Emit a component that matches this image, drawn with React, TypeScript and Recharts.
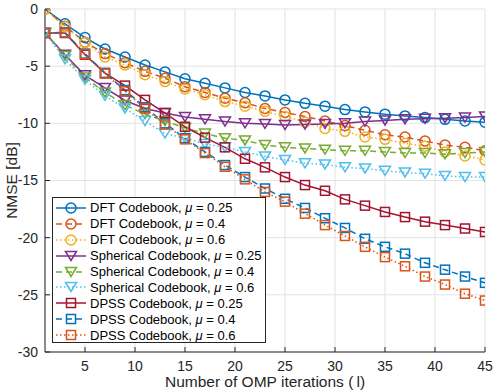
import React from "react";
import { LineChart, Line, XAxis, YAxis, CartesianGrid, Legend, Label } from "recharts";

const iterations = [1, 3, 5, 7, 9, 11, 13, 15, 17, 19, 21, 23, 25, 27, 29, 31, 33, 35, 37, 39, 41, 43, 45];

const dft025 = [0, -1.3, -2.5, -3.5, -4.2, -4.9, -5.5, -6.1, -6.5, -6.9, -7.3, -7.6, -7.95, -8.25, -8.5, -8.8, -9.0, -9.2, -9.35, -9.5, -9.65, -9.8, -9.9];
const dft04 = [0, -1.5, -2.9, -3.9, -4.7, -5.45, -6.05, -6.8, -7.3, -7.8, -8.2, -8.7, -9.05, -9.4, -9.8, -10.2, -10.6, -11.0, -11.2, -11.55, -11.9, -12.1, -12.4];
const dft06 = [0, -1.55, -2.95, -4.2, -4.9, -5.75, -6.35, -7.0, -7.5, -8.1, -8.5, -8.95, -9.4, -9.9, -10.45, -10.7, -11.2, -11.4, -11.75, -12.0, -12.5, -12.85, -13.2];
const sph025 = [-2.1, -4.0, -5.8, -6.9, -8.0, -8.7, -9.1, -9.45, -9.65, -9.85, -10.0, -10.05, -10.15, -10.1, -10.05, -10.0, -9.85, -9.75, -9.65, -9.6, -9.55, -9.5, -9.4];
const sph04 = [-2.1, -4.1, -6.0, -7.3, -8.4, -9.2, -9.8, -10.4, -10.9, -11.3, -11.5, -11.9, -12.1, -12.2, -12.3, -12.4, -12.4, -12.5, -12.6, -12.6, -12.7, -12.6, -12.5];
const sph06 = [-2.1, -4.4, -6.2, -7.6, -8.7, -9.8, -10.9, -11.3, -11.8, -12.1, -12.5, -12.9, -13.2, -13.5, -13.6, -13.85, -13.95, -14.15, -14.3, -14.4, -14.6, -14.7, -14.7];
const dpss025 = [-2.1, -2.1, -4.0, -5.6, -6.7, -7.95, -9.1, -10.3, -11.25, -12.1, -13.1, -13.85, -14.7, -15.4, -15.9, -16.65, -17.2, -17.75, -18.2, -18.6, -18.9, -19.2, -19.5];
const dpss04 = [-2.1, -2.05, -3.9, -5.6, -7.1, -8.6, -10.0, -11.3, -12.5, -13.65, -14.7, -15.7, -16.6, -17.4, -18.3, -19.15, -20.1, -20.8, -21.4, -22.2, -22.8, -23.4, -23.95];
const dpss06 = [-2.1, -2.05, -3.95, -5.65, -7.2, -8.7, -10.1, -11.4, -12.6, -13.8, -14.9, -16.0, -16.85, -17.9, -18.9, -19.85, -20.8, -21.7, -22.5, -23.4, -24.1, -24.9, -25.5];

const xTicks = [5, 10, 15, 20, 25, 30, 35, 40, 45];
const yTicks = [-30, -25, -20, -15, -10, -5, 0];

type Shape = "circle" | "triangle" | "square";

const series: { key: string; values: number[]; book: string; mu: string; color: string; dash?: string; shape: Shape }[] = [
  { key: "dft025", values: dft025, book: "DFT Codebook,", mu: "0.25", color: "#0072BD", shape: "circle" },
  { key: "dft04", values: dft04, book: "DFT Codebook,", mu: "0.4", color: "#D95319", dash: "6 4", shape: "circle" },
  { key: "dft06", values: dft06, book: "DFT Codebook,", mu: "0.6", color: "#EDB120", dash: "1.5 2.5", shape: "circle" },
  { key: "sph025", values: sph025, book: "Spherical Codebook, ", mu: "0.25", color: "#7E2F8E", shape: "triangle" },
  { key: "sph04", values: sph04, book: "Spherical Codebook, ", mu: "0.4", color: "#77AC30", dash: "6 4", shape: "triangle" },
  { key: "sph06", values: sph06, book: "Spherical Codebook, ", mu: "0.6", color: "#4DBEEE", dash: "1.5 2.5", shape: "triangle" },
  { key: "dpss025", values: dpss025, book: "DPSS Codebook,", mu: "0.25", color: "#A2142F", shape: "square" },
  { key: "dpss04", values: dpss04, book: "DPSS Codebook,", mu: "0.4", color: "#0072BD", dash: "6 4", shape: "square" },
  { key: "dpss06", values: dpss06, book: "DPSS Codebook,", mu: "0.6", color: "#D95319", dash: "1.5 2.5", shape: "square" },
];

const data = iterations.map((it, i) => {
  const row: Record<string, number> = { it };
  series.forEach((s) => (row[s.key] = s.values[i]));
  return row;
});

const font = "'Liberation Sans', Arial, sans-serif";
const ink = "#262626";

function MarkerShape({ shape, cx, cy, color }: { shape: Shape; cx: number; cy: number; color: string }) {
  if (cx == null || cy == null) return null;
  if (shape === "circle") {
    return <circle cx={cx} cy={cy} r={5} fill="none" stroke={color} strokeWidth={1.5} />;
  }
  if (shape === "triangle") {
    return (
      <path
        d={`M${cx - 5.5},${cy - 4.5}L${cx + 5.5},${cy - 4.5}L${cx},${cy + 4.5}Z`}
        fill="none"
        stroke={color}
        strokeWidth={1.5}
        strokeLinejoin="miter"
      />
    );
  }
  return <rect x={cx - 4.5} y={cy - 4.5} width={9} height={9} fill="none" stroke={color} strokeWidth={1.5} />;
}

const renderLegend = () => (
  <div
    style={{
      border: `1px solid ${ink}`,
      background: "#fff",
      padding: "2px 0 0 1px",
      fontFamily: font,
      fontSize: 13,
      color: "#000",
      boxSizing: "border-box",
      width: 214,
      height: 146,
      overflow: "hidden",
    }}
  >
    {series.map((s) => (
      <div key={s.key} style={{ display: "flex", alignItems: "center", height: 15.9, whiteSpace: "nowrap" }}>
        <svg width={36} height={14} style={{ flex: "none" }}>
          <line x1={2} x2={32} y1={7} y2={7} stroke={s.color} strokeWidth={1.5} strokeDasharray={s.dash} />
          <MarkerShape shape={s.shape} cx={17} cy={7} color={s.color} />
        </svg>
        <span>
          {s.book} <span style={{ fontStyle: "italic" }}>μ</span> = {s.mu}
        </span>
      </div>
    ))}
  </div>
);

export default function App() {
  return (
    <div style={{ position: "absolute", left: 0, top: 0, width: 494, height: 392, background: "#fff", fontFamily: font }}>
      <LineChart width={494} height={392} data={data} margin={{ top: 9, right: 9, bottom: 0, left: 0 }}>
        <CartesianGrid stroke="#e3e3e3" strokeWidth={1} />
        <XAxis
          dataKey="it"
          type="number"
          domain={[1, 45]}
          ticks={xTicks}
          allowDataOverflow
          height={40}
          tickSize={-5}
          tickMargin={14}
          stroke={ink}
          tick={{ fill: ink, fontSize: 14, fontFamily: font }}
        >
          <Label
            content={() => (
              <text x={265} y={387} textAnchor="middle" fill={ink} fontSize={15.5} fontFamily={font}>
                Number of OMP iterations (<tspan>{"\u2009"}l</tspan>)
              </text>
            )}
          />
        </XAxis>
        <XAxis
          xAxisId="top"
          orientation="top"
          dataKey="it"
          type="number"
          domain={[1, 45]}
          ticks={xTicks}
          allowDataOverflow
          height={0}
          tickSize={-5}
          tick={false}
          stroke={ink}
        />
        <YAxis
          type="number"
          domain={[-30, 0]}
          ticks={yTicks}
          allowDataOverflow
          width={45}
          tickSize={-5}
          tickMargin={12}
          stroke={ink}
          tick={{ fill: ink, fontSize: 14, fontFamily: font }}
        >
          <Label
            content={() => (
              <text
                x={17}
                y={180.5}
                transform="rotate(-90 17 180.5)"
                textAnchor="middle"
                fill={ink}
                fontSize={15.5}
                fontFamily={font}
              >
                NMSE [dB]
              </text>
            )}
          />
        </YAxis>
        <YAxis
          yAxisId="right"
          orientation="right"
          type="number"
          domain={[-30, 0]}
          ticks={yTicks}
          allowDataOverflow
          width={0}
          tickSize={-5}
          tick={false}
          stroke={ink}
        />
        {series.map((s) => (
          <Line
            key={s.key}
            dataKey={s.key}
            stroke={s.color}
            strokeWidth={1.5}
            strokeDasharray={s.dash}
            isAnimationActive={false}
            activeDot={false}
            dot={(p: any) => (
              <MarkerShape key={`${s.key}-${p.index}`} shape={s.shape} cx={p.cx} cy={p.cy} color={s.color} />
            )}
          />
        ))}
        <Legend
          layout="vertical"
          align="center"
          verticalAlign="middle"
          wrapperStyle={{ left: 52, top: 197, width: 214, height: 146 }}
          content={renderLegend}
        />
      </LineChart>
    </div>
  );
}
